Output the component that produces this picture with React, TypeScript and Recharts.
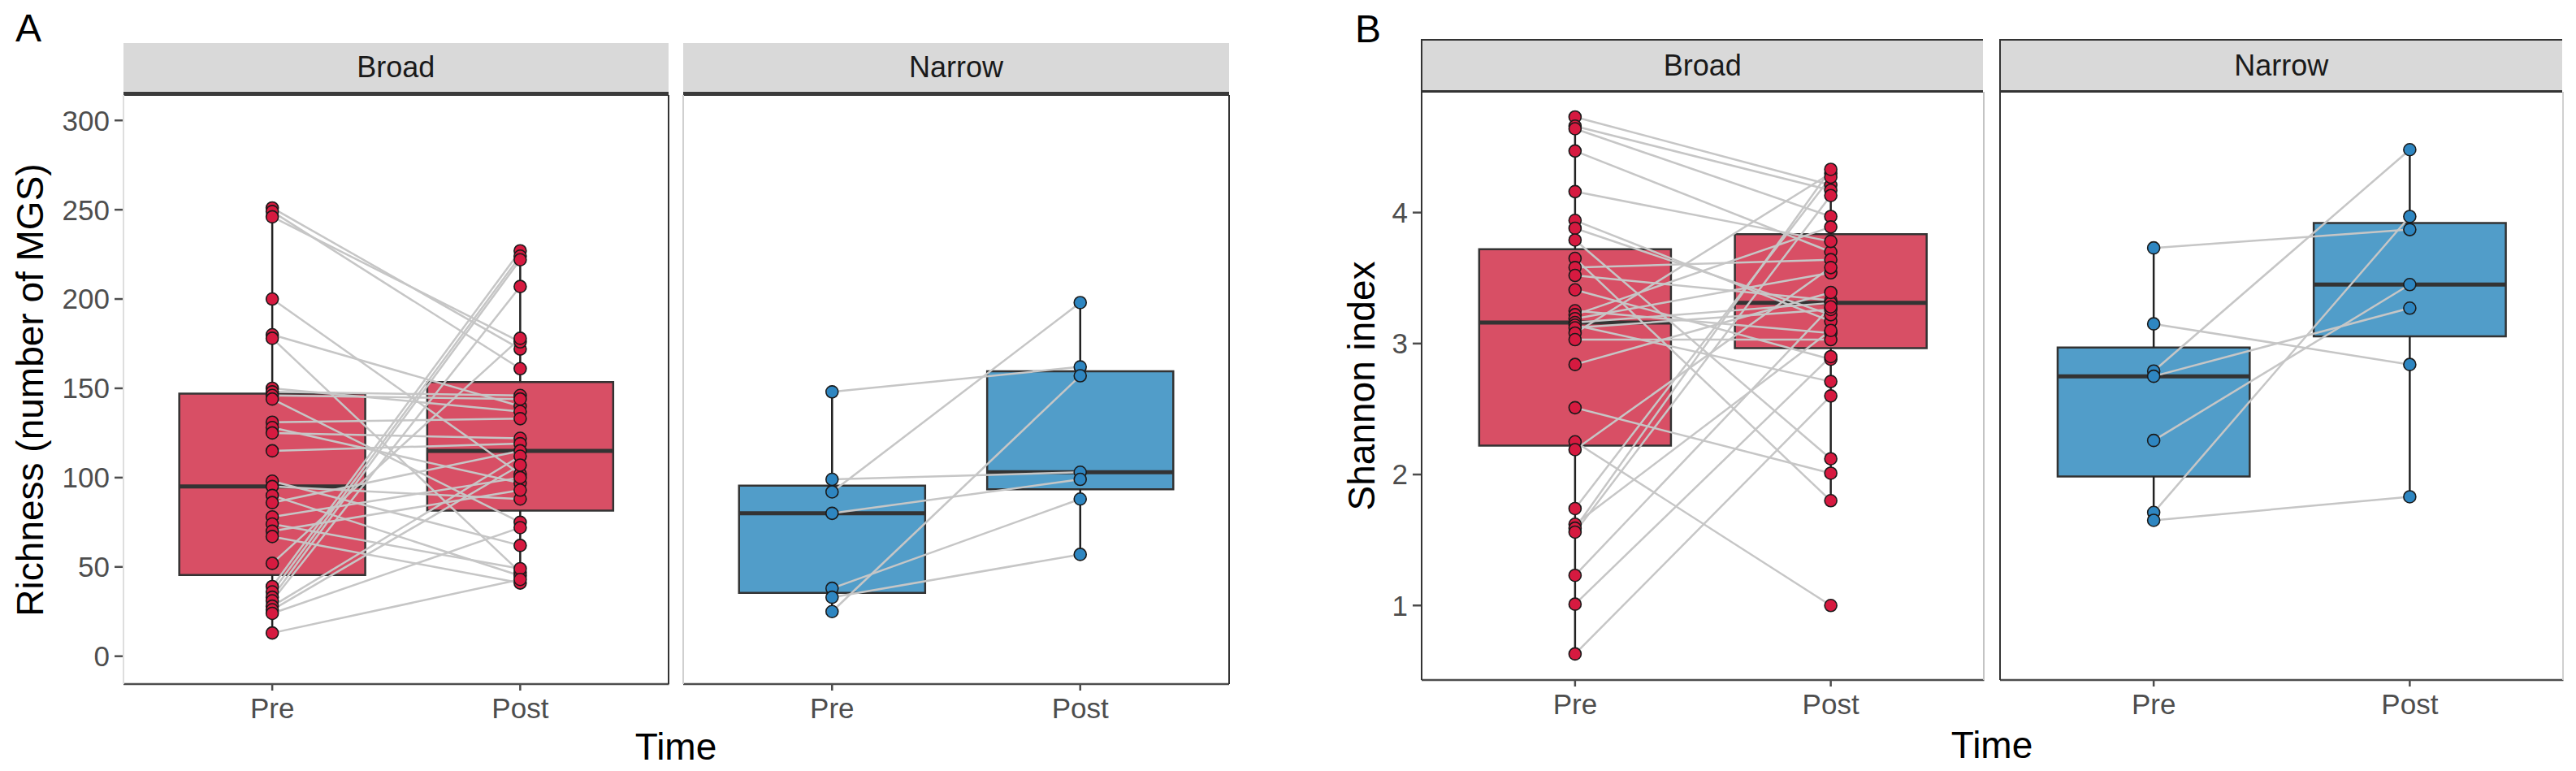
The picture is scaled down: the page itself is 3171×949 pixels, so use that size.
import React from 'react';
import { ComposedChart, XAxis, YAxis, Line, Scatter, ReferenceArea, ReferenceLine } from 'recharts';

const FONT = '"Liberation Sans", Arial, sans-serif';

// one entry per subject: index i of Pre is paired with index i of Post
const richBroadPre = [251, 249, 246, 200, 180, 178, 150, 148, 146, 144, 131, 128, 125, 115, 98, 95, 90, 86, 78, 74, 70, 67, 52, 39, 36, 33, 31, 28, 26, 24, 13];
const richBroadPost = [172, 161, 176, 102, 140, 47, 137, 146, 144, 75, 133, 97, 122, 119, 62, 88, 45, 115, 100, 49, 93, 41, 178, 227, 224, 222, 207, 112, 107, 72, 43];
const richNarrowPre = [148, 99, 92, 80, 38, 33, 25];
const richNarrowPost = [162, 103, 198, 99, 88, 57, 157];

const shanBroadPre = [4.73, 4.66, 4.64, 4.47, 4.16, 3.94, 3.88, 3.79, 3.65, 3.58, 3.52, 3.41, 3.25, 3.22, 3.19, 3.16, 3.14, 3.12, 3.08, 3.03, 2.84, 2.51, 2.25, 2.19, 1.74, 1.62, 1.59, 1.56, 1.23, 1.01, 0.63];
const shanBroadPost = [4.21, 4.17, 3.97, 3.70, 3.78, 3.17, 3.22, 2.12, 1.80, 3.64, 3.33, 2.88, 3.08, 3.89, 3.54, 3.31, 2.71, 3.26, 4.30, 3.03, 3.39, 2.01, 1.00, 3.58, 4.27, 3.10, 4.33, 4.13, 3.28, 2.90, 2.60];
const shanNarrowPre = [3.73, 3.15, 2.79, 2.75, 2.26, 1.71, 1.65];
const shanNarrowPost = [3.87, 2.84, 4.48, 3.27, 3.45, 3.97, 1.83];

const timeLabels = ['Pre', 'Post'];
const facetNames = ['Broad', 'Narrow'];
const richTicks = [0, 50, 100, 150, 200, 250, 300];
const shanTicks = [1, 2, 3, 4];

const RED_BOX = '#D84F65';
const RED_PT = '#D61A40';
const BLUE_BOX = '#519DC9';
const BLUE_PT = '#2E86C1';

function quantile(sorted: number[], p: number) {
  const h = (sorted.length - 1) * p;
  const lo = Math.floor(h);
  const hi = Math.min(lo + 1, sorted.length - 1);
  return sorted[lo] + (h - lo) * (sorted[hi] - sorted[lo]);
}

function boxStats(vals: number[]) {
  const s = [...vals].sort((a, b) => a - b);
  const q1 = quantile(s, 0.25);
  const med = quantile(s, 0.5);
  const q3 = quantile(s, 0.75);
  const iqr = q3 - q1;
  const lower = s.filter((v) => v >= q1 - 1.5 * iqr)[0];
  const upper = s.filter((v) => v <= q3 + 1.5 * iqr).slice(-1)[0];
  return { q1, med, q3, lower, upper };
}

type Rect = { x0: number; x1: number; y0: number; y1: number };

function Facet(props: {
  rect: Rect;
  pre: number[];
  post: number[];
  domain: [number, number];
  ticks: number[];
  showY: boolean;
  box: string;
  point: string;
}) {
  const { rect, pre, post, domain, ticks, showY, box, point } = props;
  const axisW = showY ? 150 : 10;
  const w = rect.x1 - rect.x0;
  const h = rect.y1 - rect.y0;
  const pairs = pre.map((v, i) => [
    { x: 1, y: v },
    { x: 2, y: post[i] },
  ]);
  const points = [...pre.map((v) => ({ x: 1, y: v })), ...post.map((v) => ({ x: 2, y: v }))];
  const stats = [boxStats(pre), boxStats(post)];
  const tickStyle = { fill: '#4d4d4d', fontSize: 35, fontFamily: FONT };

  const boxes = stats.flatMap((s, i) => {
    const cx = i + 1;
    return [
      <ReferenceLine key={`wl${i}`} segment={[{ x: cx, y: s.lower }, { x: cx, y: s.q1 }]} stroke="#222" strokeWidth={2.5} />,
      <ReferenceLine key={`wu${i}`} segment={[{ x: cx, y: s.q3 }, { x: cx, y: s.upper }]} stroke="#222" strokeWidth={2.5} />,
      <ReferenceArea key={`b${i}`} x1={cx - 0.375} x2={cx + 0.375} y1={s.q1} y2={s.q3} fill={box} fillOpacity={1} stroke="#333" strokeWidth={2.5} />,
      <ReferenceLine key={`m${i}`} segment={[{ x: cx - 0.375, y: s.med }, { x: cx + 0.375, y: s.med }]} stroke="#333" strokeWidth={5} />,
    ];
  });

  return (
    <div style={{ position: 'absolute', left: rect.x0 - axisW, top: rect.y0 - 10 }}>
      <ComposedChart
        width={w + axisW + 10}
        height={h + 10 + 60}
        margin={{ top: 10, right: 10, bottom: 0, left: showY ? 0 : axisW }}
      >
        <XAxis
          type="number"
          dataKey="x"
          domain={[0.4, 2.6]}
          ticks={[1, 2]}
          interval={0}
          allowDataOverflow
          tickFormatter={(v) => timeLabels[v - 1]}
          height={60}
          tickSize={8}
          tickMargin={9}
          axisLine={{ stroke: '#4d4d4d', strokeWidth: 2.5 }}
          tickLine={{ stroke: '#4d4d4d', strokeWidth: 2.5 }}
          tick={tickStyle}
        />
        <YAxis
          type="number"
          dataKey="y"
          domain={domain}
          ticks={ticks}
          interval={0}
          allowDataOverflow
          hide={!showY}
          width={axisW}
          tickSize={11}
          tickMargin={6}
          axisLine={false}
          tickLine={{ stroke: '#4d4d4d', strokeWidth: 2.5 }}
          tick={tickStyle}
        />
        {boxes}
        {pairs.map((d, i) => (
          <Line
            key={`p${i}`}
            data={d}
            dataKey="y"
            stroke="#c6c6c6"
            strokeWidth={2.5}
            dot={false}
            activeDot={false}
            isAnimationActive={false}
          />
        ))}
        <Scatter
          data={points}
          isAnimationActive={false}
          shape={(p: any) => <circle cx={p.cx} cy={p.cy} r={7.5} fill={point} stroke="#1a1a1a" strokeWidth={1.6} />}
        />
      </ComposedChart>
    </div>
  );
}

function Strip({ rect, top, label, framed }: { rect: Rect; top: number; label: string; framed: boolean }) {
  return (
    <div
      style={{
        position: 'absolute',
        left: rect.x0 - (framed ? 1 : 0),
        top,
        width: rect.x1 - rect.x0,
        height: rect.y0 - top + 1,
        boxSizing: 'border-box',
        background: '#d9d9d9',
        borderTop: framed ? '2px solid #333' : 'none',
        borderLeft: framed ? '2px solid #333' : 'none',
        borderBottom: framed ? '3px solid #333' : '5px solid #3a3a3a',
        fontFamily: FONT,
        fontSize: 36,
        color: '#1a1a1a',
        textAlign: 'center',
        lineHeight: `${rect.y0 - top - 4}px`,
      }}
    >
      {label}
    </div>
  );
}

function VLine({ x, y0, y1, color }: { x: number; y0: number; y1: number; color: string }) {
  return <div style={{ position: 'absolute', left: x - 1, top: y0, width: 2, height: y1 - y0, background: color }} />;
}

function Text({ x, y, size, children, rotate, anchor }: any) {
  const width = 900;
  return (
    <div
      style={{
        position: 'absolute',
        left: anchor === 'start' ? x : x - width / 2,
        top: y - size / 2,
        width,
        height: size,
        lineHeight: `${size}px`,
        fontSize: size,
        fontFamily: FONT,
        color: '#000',
        textAlign: anchor === 'start' ? 'left' : 'center',
        whiteSpace: 'nowrap',
        transform: rotate ? 'rotate(-90deg)' : undefined,
      }}
    >
      {children}
    </div>
  );
}

const PA1: Rect = { x0: 151.5, x1: 823, y0: 117, y1: 842 };
const PA2: Rect = { x0: 841, x1: 1513, y0: 117, y1: 842 };
const PB1: Rect = { x0: 1749.5, x1: 2442, y0: 113, y1: 837 };
const PB2: Rect = { x0: 2461.5, x1: 3155, y0: 113, y1: 837 };

export default function App() {
  const richDomain: [number, number] = [-15.6, 314.2];
  const shanDomain: [number, number] = [0.431, 4.922];
  return (
    <div style={{ position: 'absolute', left: 0, top: 0, width: 3171, height: 949, background: '#fff', overflow: 'hidden' }}>
      <Strip rect={PA1} top={53} label={facetNames[0]} framed={false} />
      <Strip rect={PA2} top={53} label={facetNames[1]} framed={false} />
      <Strip rect={PB1} top={48} label={facetNames[0]} framed={true} />
      <Strip rect={PB2} top={48} label={facetNames[1]} framed={true} />

      <Facet rect={PA1} pre={richBroadPre} post={richBroadPost} domain={richDomain} ticks={richTicks} showY box={RED_BOX} point={RED_PT} />
      <Facet rect={PA2} pre={richNarrowPre} post={richNarrowPost} domain={richDomain} ticks={richTicks} showY={false} box={BLUE_BOX} point={BLUE_PT} />
      <Facet rect={PB1} pre={shanBroadPre} post={shanBroadPost} domain={shanDomain} ticks={shanTicks} showY box={RED_BOX} point={RED_PT} />
      <Facet rect={PB2} pre={shanNarrowPre} post={shanNarrowPost} domain={shanDomain} ticks={shanTicks} showY={false} box={BLUE_BOX} point={BLUE_PT} />

      <VLine x={PA1.x0} y0={PA1.y0} y1={PA1.y1} color="#dedede" />
      <VLine x={PA1.x1} y0={PA1.y0} y1={PA1.y1} color="#333" />
      <VLine x={PA2.x0} y0={PA2.y0} y1={PA2.y1} color="#d0d0d0" />
      <VLine x={PA2.x1} y0={PA2.y0} y1={PA2.y1} color="#333" />
      <VLine x={PB1.x0} y0={PB1.y0} y1={PB1.y1} color="#333" />
      <VLine x={PB1.x1} y0={PB1.y0} y1={PB1.y1} color="#c4c4c4" />
      <VLine x={PB2.x0} y0={PB2.y0} y1={PB2.y1} color="#333" />
      <VLine x={PB2.x1} y0={PB2.y0} y1={PB2.y1} color="#d0d0d0" />

      <Text x={19} y={35} size={48} anchor="start">A</Text>
      <Text x={1668} y={36} size={48} anchor="start">B</Text>
      <Text x={37} y={479.5} size={46} rotate>Richness (number of MGS)</Text>
      <Text x={1676} y={475} size={46} rotate>Shannon index</Text>
      <Text x={832} y={919} size={46}>Time</Text>
      <Text x={2452} y={917} size={46}>Time</Text>
    </div>
  );
}
